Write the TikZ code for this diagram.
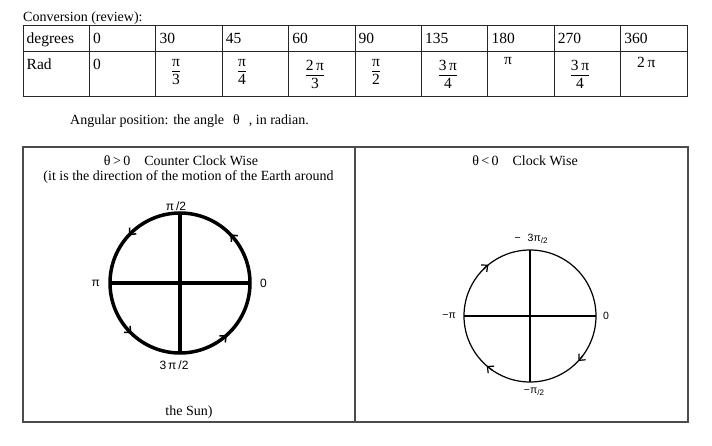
\documentclass[tikz,border=0pt]{standalone}
\usepackage{fontspec}
\setmainfont{Liberation Serif}
\newfontfamily\labfont{Liberation Sans}
\usetikzlibrary{arrows,arrows.meta,positioning}

\tikzset{
  tabline/.style={line width=1pt, draw=black!85},
  boxline/.style={line width=1.2pt, draw=black!70},
  cell/.style={anchor=base west, inner sep=0pt, font=\fontsize{15.5}{18}\selectfont},
  fracnode/.style={anchor=north, inner sep=0pt, font=\fontsize{15.5}{18}\selectfont},
  body/.style={inner sep=0pt, font=\fontsize{14}{17}\selectfont},
  ang/.style={inner sep=0pt, font=\labfont\fontsize{12}{14}\selectfont},
  angsmall/.style={inner sep=0pt, font=\labfont\fontsize{10.5}{12}\selectfont},
  wheel/.style={draw, circle, inner sep=0pt, outer sep=0pt},
}
\newcommand\frc[2]{\renewcommand\arraystretch{0.8}\setlength\arrayrulewidth{0.8pt}%
  \begin{tabular}{@{}c@{}}#1\\\hline\rule{0pt}{13pt}#2\end{tabular}}
\newcommand\lowtwo{\raisebox{-2pt}{\fontsize{8}{9}\selectfont/2}}

\begin{document}
\begin{tikzpicture}[x=1pt,y=1pt,>={Straight Barb[length=5pt,width=9pt]}]
\useasboundingbox (0,0) rectangle (712,445);
%% conversion table
\node (conv) [body, anchor=base west] at (23,423) {Conversion (review):};
\draw[tabline] (23,348) rectangle (687,419);
\draw[tabline] (23,393) -- (687,393);
\foreach \i in {1,...,9}
  \draw[tabline] (23+66.4*\i,348) -- (23+66.4*\i,419);
\node (deg) [cell] at (26.5,401) {degrees};
\node (rad) [cell] at (26.5,375) {Rad};
\foreach \d [count=\i] in {0,30,45,60,90,135,180,270,360}
  \node (deg\i) [cell] at (26.5+66.4*\i,401) {\d};
\node (rad1) [cell] at (92.9,375) {0};
\node (rad2) [fracnode] at (176,389) {\frc{π}{3}};
\node (rad3) [fracnode] at (242,389) {\frc{π}{4}};
\node (rad4) [fracnode] at (315,385) {\frc{2\,π}{3}};
\node (rad5) [fracnode] at (376,389) {\frc{π}{2}};
\node (rad6) [fracnode] at (448,385) {\frc{3\,π}{4}};
\node (rad7) [cell] at (504,380) {π};
\node (rad8) [fracnode] at (580,385) {\frc{3\,π}{4}};
\node (rad9) [cell] at (637,377) {2\,π};
%% angular position
\node (angpos) [body, anchor=base west] at (70,320)
  {Angular position: the angle\hspace{9pt}θ\hspace{9pt}, in radian.};
\draw[boxline] (23,23) rectangle (355,298);
\draw[boxline] (355,23) rectangle (688,298);
%% counter clock wise
\node (ccw) [body, anchor=base] at (181,279) {θ\,>\,0\quad Counter Clock Wise};
\node (earth) [body, anchor=base] at (188.5,264)
  {(it is the direction of the motion of the Earth around};
\node (sun) [body, anchor=base] at (189,30) {the Sun)};
\node (pos) [wheel, line width=3.5pt, minimum size=140pt] at (180,162) {};
\draw[line width=3.5pt] (pos.west) -- (pos.east);
\draw[line width=3.5pt] (pos.north) -- (pos.south);
\foreach \a in {44,137,226,312}
  \draw[->, line width=1.5pt] (pos.center) ++({\a-6}:70)
    arc[start angle=\a-6, end angle=\a, radius=70];
\node (pos90) [ang, above=2pt of pos.north, xshift=-4pt] {π\,/2};
\node (pos180) [ang, left=10pt of pos.west] {π};
\node (pos0) [ang, right=10pt of pos.east] {0};
\node (pos270) [ang, below=8pt of pos.south, xshift=-6pt] {3\,π\,/2};
%% clock wise
\node (cw) [body, anchor=base] at (525,279) {θ\,<\,0\quad Clock Wise};
\node (neg) [wheel, line width=1.2pt, minimum size=132pt] at (530,129) {};
\draw[line width=1.2pt] (neg.west) -- (neg.east);
\draw[line width=1.2pt] (neg.north) -- (neg.south);
\foreach \a in {129,-43,229}
  \draw[->, line width=1.2pt] (neg.center) ++({\a+6}:66)
    arc[start angle=\a+6, end angle=\a, radius=66];
\node (neg90) [angsmall, above=6pt of neg.north, xshift=1pt] {−\hspace{7pt}3π\lowtwo};
\node (neg180) [angsmall, left=8pt of neg.west] {−π};
\node (neg0) [angsmall, right=7pt of neg.east] {0};
\node (neg270) [angsmall, below=6pt of neg.south, xshift=4pt] {−π\lowtwo};
\end{tikzpicture}
\end{document}
